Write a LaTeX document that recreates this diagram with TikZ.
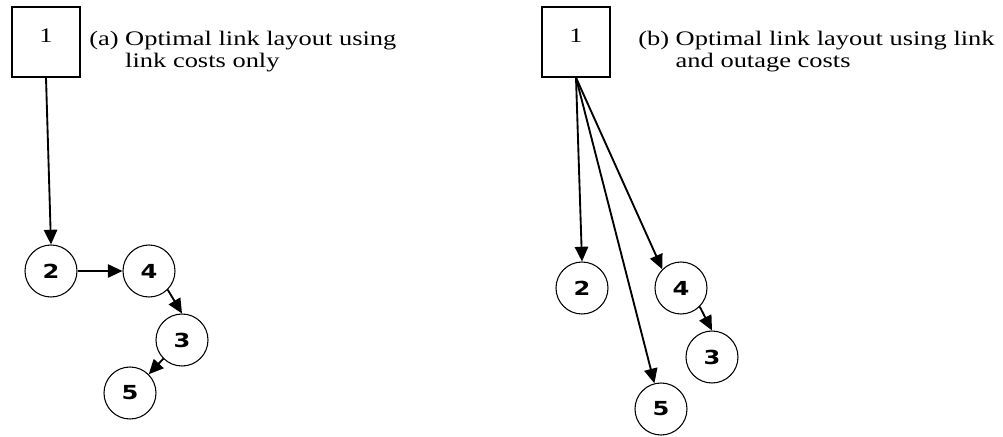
\documentclass[tikz,border=0pt]{standalone}
\usepackage{fontspec}
\setmainfont{Liberation Serif}[FakeStretch=1.28]
\newfontfamily\digitfont{DejaVu Sans}[FakeStretch=1.25]
\usetikzlibrary{arrows.meta}

\tikzset{
  srcbox/.style={draw, line width=1pt, minimum width=51pt, text height=24pt, text depth=24pt, inner xsep=0pt, inner ysep=2.25pt, font=\fontsize{15.5}{17}\selectfont},
  site/.style={draw, circle, line width=0.8pt, minimum size=39pt, inner sep=0pt, font=\digitfont\bfseries\fontsize{14.5}{14.5}\selectfont},
  link/.style={line width=1.4pt, -{Triangle[length=11pt,width=10pt]}},
  caption/.style={anchor=base west, inner sep=0pt, font=\fontsize{15.5}{17}\selectfont}
}

\begin{document}
\begin{tikzpicture}[x=0.75pt,y=0.75pt,yscale=-1,xscale=1]
        \useasboundingbox (0,0) rectangle (1003,436);

        %Panel (a): link costs only
        \node[srcbox] (a1) at (46,42) {1};
        \node[site] (a2) at (51,271) {2};
        \node[site] (a4) at (149,271) {4};
        \node[site] (a3) at (182,340) {3};
        \node[site] (a5) at (130,393) {5};
        \node[caption] (capA) at (89,45) {\begin{tabular}[t]{@{}l@{ }l@{}}(a)&Optimal link layout using\\&link costs only\end{tabular}};

        %Straight Lines
        \draw[link] (a1.south) -- (a2.north);
        \draw[link] (a2) -- (a4);
        \draw[link] (a4.south east) -- (a3.north);
        \draw[link] (a3.south west) -- (a5.north east);

        %Panel (b): link and outage costs
        \node[srcbox] (b1) at (576,42) {1};
        \node[site] (b2) at (582,288) {2};
        \node[site] (b4) at (681,288) {4};
        \node[site] (b3) at (712,357) {3};
        \node[site] (b5) at (661,409) {5};
        \node[caption] (capB) at (638,45) {\begin{tabular}[t]{@{}l@{ }l@{}}(b)&Optimal link layout using link\\&and outage costs\end{tabular}};

        %Straight Lines
        \draw[link] (b1.south) -- (b2.north);
        \draw[link] (b1.south) -- (b4.north west);
        \draw[link] (b1.south) -- (b5);
        \draw[link] (b4.south east) -- (b3.north);
\end{tikzpicture}
\end{document}
